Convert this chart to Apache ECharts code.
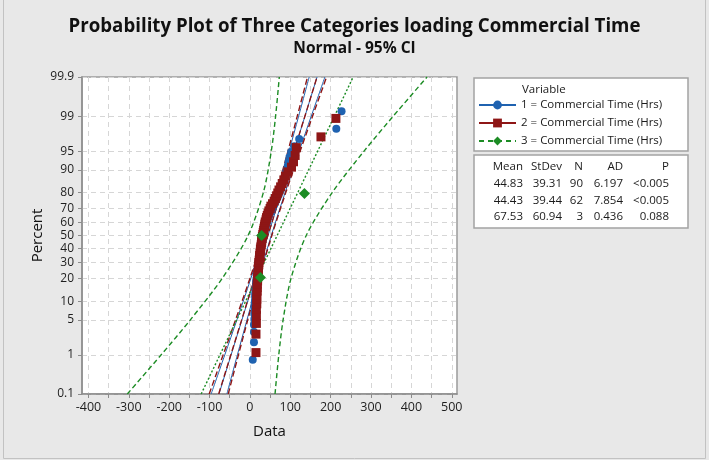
<!DOCTYPE html>
<html>
<head>
<meta charset="utf-8">
<script src="https://cdn.jsdelivr.net/npm/echarts@6/dist/echarts.min.js"></script>
<style>
html, body { margin: 0; padding: 0; background: #e8e8e8; }
#chart { width: 709px; height: 460px; }
</style>
</head>
<body>
<div id="chart"></div>
<script>
/* ticks of the probability scale and of the data axis */
var percentTicks = [0.1, 1, 5, 10, 20, 30, 40, 50, 60, 70, 80, 90, 95, 99, 99.9]
var dataTicks = [-400, -300, -200, -100, 0, 100, 200, 300, 400, 500]
var dataGrid = [-400, -350, -300, -250, -200, -150, -100, -50, 0, 50, 100, 150, 200, 250, 300, 350, 400, 450, 500]

var seriesNames = ['1 = Commercial Time (Hrs)', '2 = Commercial Time (Hrs)', '3 = Commercial Time (Hrs)']

var time1 = [7, 10, 10, 10, 11, 11, 12, 12, 12, 13,
    13, 13, 14, 14, 15, 15, 16, 16, 17, 17,
    18, 18, 19, 19, 20, 20, 21, 22, 22, 23,
    23, 24, 25, 25, 26, 27, 27, 28, 29, 29,
    30, 31, 31, 32, 33, 33, 34, 35, 36, 37,
    38, 39, 40, 41, 42, 43, 44, 45, 47, 48,
    50, 52, 54, 56, 58, 60, 62, 64, 66, 68,
    70, 72, 74, 76, 78, 80, 82, 84, 86, 88,
    90, 92, 94, 96, 98, 102, 110, 122, 214, 227]
var time2 = [15, 15, 16, 16, 16, 17, 17, 17, 18, 18,
    18, 19, 19, 20, 20, 21, 21, 22, 22, 23,
    24, 24, 25, 26, 26, 27, 28, 29, 29, 30,
    31, 32, 33, 34, 35, 36, 37, 38, 40, 41,
    43, 45, 47, 50, 52, 56, 60, 63, 66, 69,
    72, 76, 80, 84, 88, 94, 103, 108, 112, 115,
    176, 213]
var time3 = [26, 29, 135]

/* fitted line and 95% CI, read at these percent levels */
var bandPercent = [0.1, 1, 5, 20, 50, 80, 95, 99, 99.9]
var fit1 = [-76.6, -46.6, -19.8, 11.7, 44.8, 77.9, 109.5, 136.3, 166.3]
var lower1 = [-96.1, -62.2, -32.3, 2.2, 36.7, 68.4, 97.0, 120.7, 146.8]
var upper1 = [-57.1, -31.0, -7.3, 21.2, 52.9, 87.4, 122.0, 151.9, 185.8]
var fit2 = [-77.4, -47.3, -20.5, 11.2, 44.4, 77.6, 109.3, 136.2, 166.3]
var lower2 = [-101.0, -66.2, -35.6, -0.2, 34.6, 66.2, 94.2, 117.3, 142.7]
var upper2 = [-53.8, -28.4, -5.4, 22.6, 54.2, 89.0, 124.4, 155.1, 189.9]
var fit3 = [-120.8, -74.2, -32.7, 16.2, 67.5, 118.8, 167.8, 209.3, 255.8]
var lower3 = [-303.8, -219.9, -147.6, -69.2, -4.5, 33.4, 52.9, 63.6, 72.8]
var upper3 = [62.2, 71.5, 82.2, 101.6, 139.5, 204.2, 282.7, 355.0, 438.8]

/* summary table */
var statHead = ['Mean', 'StDev', 'N', 'AD', 'P']
var statMean = ['44.83', '44.43', '67.53']
var statStDev = ['39.31', '39.44', '60.94']
var statN = ['90', '62', '3']
var statAD = ['6.197', '7.854', '0.436']
var statP = ['<0.005', '<0.005', '0.088']

var colors = ['#1f62b0', '#8e1616', '#1c8c24']
var FONT = '"Open Sans", Lato, sans-serif'

// inverse normal cdf (Acklam), used as the probability scale
function probit(p) {
    var a = [-3.969683028665376e+01, 2.209460984245205e+02, -2.759285104469687e+02, 1.383577518672690e+02, -3.066479806614716e+01, 2.506628277459239e+00]
    var b = [-5.447609879822406e+01, 1.615858368580409e+02, -1.556989798598866e+02, 6.680131188771972e+01, -1.328068155288572e+01]
    var c = [-7.784894002430293e-03, -3.223964580411365e-01, -2.400758277161838e+00, -2.549732539343734e+00, 4.374664141464968e+00, 2.938163982698783e+00]
    var d = [7.784695709041462e-03, 3.224671290700398e-01, 2.445134137142996e+00, 3.754408661907416e+00]
    var q, r
    if (p < 0.02425) {
        q = Math.sqrt(-2 * Math.log(p))
        return (((((c[0] * q + c[1]) * q + c[2]) * q + c[3]) * q + c[4]) * q + c[5]) / ((((d[0] * q + d[1]) * q + d[2]) * q + d[3]) * q + 1)
    }
    if (p > 1 - 0.02425) {
        q = Math.sqrt(-2 * Math.log(1 - p))
        return -(((((c[0] * q + c[1]) * q + c[2]) * q + c[3]) * q + c[4]) * q + c[5]) / ((((d[0] * q + d[1]) * q + d[2]) * q + d[3]) * q + 1)
    }
    q = p - 0.5
    r = q * q
    return (((((a[0] * r + a[1]) * r + a[2]) * r + a[3]) * r + a[4]) * r + a[5]) * q / (((((b[0] * r + b[1]) * r + b[2]) * r + b[3]) * r + b[4]) * r + 1)
}

var zTicks = percentTicks.map(function (p) { return probit(p / 100) })

// plotting positions (Benard's median rank)
function points(values) {
    var n = values.length
    return values.map(function (v, i) { return [v, probit((i + 1 - 0.3) / (n + 0.4))] })
}
function curve(xs) {
    return xs.map(function (x, k) { return [x, probit(bandPercent[k] / 100)] })
}

var lineSeries = []
var symbols = ['circle', 'rect', 'diamond']
var fits = [fit1, fit2, fit3]
var bands = [[lower1, upper1], [lower2, upper2], [lower3, upper3]]
var lineTypes = [
    { fit: 'solid', band: 'solid', width: 1 },
    { fit: [6, 3], band: [6, 3], width: 1.4 },
    { fit: [2, 2], band: [5, 3], width: 1.4 }
]
for (var g = 0; g < 3; g++) {
    lineSeries.push({
        name: seriesNames[g],
        type: 'line',
        data: curve(fits[g]),
        symbol: symbols[g],
        showSymbol: false,
        silent: true,
        z: 1,
        itemStyle: { color: colors[g] },
        lineStyle: { color: colors[g], width: lineTypes[g].width, type: lineTypes[g].fit }
    })
    bands[g].forEach(function (b) {
        lineSeries.push({
            type: 'line',
            data: curve(b),
            smooth: 0.3,
            symbol: 'none',
            silent: true,
            z: 1,
            lineStyle: { color: colors[g], width: lineTypes[g].width, type: lineTypes[g].band }
        })
    })
}

var scatterSeries = [
    { type: 'scatter', name: 'pts1', data: points(time1), symbol: 'circle', symbolSize: 8, itemStyle: { color: colors[0], opacity: 1 }, z: 3 },
    { type: 'scatter', name: 'pts2', data: points(time2), symbol: 'rect', symbolSize: 9, itemStyle: { color: colors[1], opacity: 1 }, z: 4 },
    { type: 'scatter', name: 'pts3', data: points(time3), symbol: 'diamond', symbolSize: 11, itemStyle: { color: colors[2], opacity: 1 }, z: 5 }
]

// summary table as text
var colRight = [523, 562, 583, 623, 669]
var rowY = [167, 184, 200.5, 217]
var table = [statHead]
for (var r = 0; r < 3; r++) table.push([statMean[r], statStDev[r], statN[r], statAD[r], statP[r]])
var tableText = []
table.forEach(function (row, i) {
    row.forEach(function (cell, j) {
        tableText.push({
            type: 'text', x: colRight[j], y: rowY[i], silent: true,
            style: { text: cell, fill: '#1a1a1a', font: '11.5px ' + FONT, textAlign: 'right', textVerticalAlign: 'middle' }
        })
    })
})

var theChart = echarts.init(document.getElementById('chart'))
var option = {
    backgroundColor: '#e8e8e8',
    animation: false,
    title: {
        text: 'Probability Plot of Three Categories loading Commercial Time',
        subtext: 'Normal - 95% CI',
        left: 'center',
        top: 12,
        itemGap: 5,
        textStyle: { fontFamily: FONT, fontSize: 18.7, fontWeight: 'bold', color: '#111' },
        subtextStyle: { fontFamily: FONT, fontSize: 15.5, fontWeight: 'bold', color: '#111' }
    },
    legend: {
        data: [
            { name: seriesNames[0] },
            { name: seriesNames[1], lineStyle: { type: 'solid' } },
            { name: seriesNames[2], lineStyle: { type: [5, 4] } }
        ],
        orient: 'vertical',
        left: 478,
        top: 99,
        padding: 0,
        itemWidth: 37,
        itemHeight: 11,
        itemGap: 6,
        selectedMode: false,
        textStyle: { fontFamily: FONT, fontSize: 11.5, color: '#1a1a1a' }
    },
    grid: {
        left: 82, right: 252, top: 77, bottom: 66,
        show: true, backgroundColor: '#fff', borderColor: '#9a9a9a', borderWidth: 1.5
    },
    xAxis: {
        type: 'value',
        min: -416,
        max: 513,
        name: 'Data',
        nameLocation: 'middle',
        nameGap: 30,
        nameTextStyle: { fontFamily: FONT, fontSize: 15, color: '#111' },
        axisLine: { onZero: false, lineStyle: { color: '#8c8c8c', width: 1.5 } },
        axisTick: { customValues: dataGrid, length: 4, lineStyle: { color: '#8c8c8c' } },
        axisLabel: {
            customValues: dataTicks, margin: 7,
            fontFamily: FONT, fontSize: 12.5, color: '#1e1e1e'
        },
        splitLine: { show: true, lineStyle: { color: '#d6d6d6', type: [5, 4] } }
    },
    yAxis: {
        type: 'value',
        min: zTicks[0],
        max: zTicks[zTicks.length - 1],
        name: 'Percent',
        nameLocation: 'middle',
        nameGap: 37,
        nameMoveOverlap: false,
        nameTextStyle: { fontFamily: FONT, fontSize: 15, color: '#111' },
        axisLine: { show: true, onZero: false, lineStyle: { color: '#8c8c8c', width: 1.5 } },
        axisTick: { show: true, customValues: zTicks, length: 4, lineStyle: { color: '#8c8c8c' } },
        axisLabel: {
            customValues: zTicks, margin: 8,
            fontFamily: FONT, fontSize: 12, color: '#1e1e1e',
            formatter: function (v) {
                var best = 0
                zTicks.forEach(function (z, k) { if (Math.abs(z - v) < Math.abs(zTicks[best] - v)) best = k })
                return String(percentTicks[best])
            }
        },
        splitLine: { show: true, lineStyle: { color: '#d6d6d6', type: [5, 4] } }
    },
    graphic: [
        { type: 'rect', shape: { x: 3.5, y: -1, width: 702, height: 459.5 }, style: { fill: 'none', stroke: '#c2c2c2', lineWidth: 1 }, silent: true, z: -10 },
        { type: 'rect', shape: { x: 474, y: 78, width: 214, height: 73 }, style: { fill: '#fff', stroke: '#a3a3a3', lineWidth: 1.5 }, silent: true, z: -1 },
        { type: 'rect', shape: { x: 474, y: 155, width: 214, height: 73 }, style: { fill: '#fff', stroke: '#a3a3a3', lineWidth: 1.5 }, silent: true, z: -1 },
        { type: 'text', x: 522, y: 90, silent: true, style: { text: 'Variable', fill: '#1a1a1a', font: '11.5px ' + FONT, textVerticalAlign: 'middle' } }
    ].concat(tableText),
    series: lineSeries.concat(scatterSeries)
}
theChart.setOption(option)
</script>
</body>
</html>
